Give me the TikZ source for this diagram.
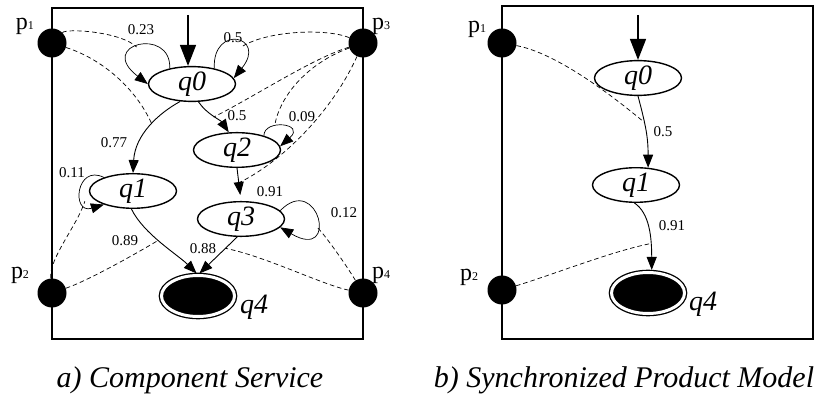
\documentclass[tikz,border=0pt]{standalone}
\usepackage{fontspec}
\setmainfont{Liberation Serif}
\usetikzlibrary{arrows.meta,shapes.geometric}

\newcommand{\pidx}[1]{{\fontsize{12}{12}\selectfont #1}}

\tikzset{
  state/.style={ellipse,draw,line width=1.4pt,minimum width=87pt,minimum height=31pt,
    inner sep=0pt,font=\fontsize{28}{28}\selectfont\itshape},
  final/.style={ellipse,draw,fill=black,double=white,double distance=3pt,line width=1.3pt,
    minimum width=73pt,minimum height=41pt,inner sep=0pt},
  slab/.style={inner sep=0pt,font=\fontsize{28}{28}\selectfont\itshape},
  plab/.style={inner sep=0pt,anchor=base,font=\fontsize{24}{24}\selectfont},
  prob/.style={inner sep=0pt,font=\fontsize{15}{15}\selectfont},
  dot/.style={circle,fill=black,minimum size=29pt,inner sep=0pt},
  edge/.style={-{Triangle[length=13pt,width=10pt]},line width=0.9pt},
  loopedge/.style={-{Triangle[length=13pt,width=10pt]},line width=0.7pt},
  init/.style={-{Triangle[length=21pt,width=16pt]},line width=1.4pt},
  dep/.style={dash pattern=on 4.5pt off 3pt,line width=0.7pt},
}

\begin{document}
\begin{tikzpicture}[x=1pt,y=-1pt]
 \useasboundingbox (0,0) rectangle (830,398);

 % a) component service
 \draw[line width=1.4pt] (52,8) rectangle (363,339);
 \node[dot] (p1) at (52,43) {};
 \node[dot] (p3) at (363,43) {};
 \node[dot] (p2) at (52,293) {};
 \node[dot] (p4) at (363,293) {};
 \node[plab] (p1l) at (25,30) {p\pidx{1}};
 \node[plab] (p3l) at (381,30) {p\pidx{3}};
 \node[plab] (p2l) at (20,278) {p\pidx{2}};
 \node[plab] (p4l) at (381,278) {p\pidx{4}};

 \node[state] (q0) at (192,84) {q0};
 \node[state,minimum height=33pt] (q2) at (237,150) {q2};
 \node[state] (q1) at (133,191) {q1};
 \node[state,minimum height=34pt] (q3) at (241,219) {q3};
 \node[final] (q4) at (198,296) {};
 \node[slab] (q4l) at (254,307) {q4};

 \coordinate (s0) at (188,15);
 \draw[init] (s0) -- (s0 |- q0.north);

 \draw[loopedge] (q0.145) .. controls +(2,-42) and +(-52,-40) .. coordinate[pos=0.55] (c0l) (q0.180);
 \draw[loopedge] (q0.35) .. controls +(-2,-45) and +(34,-42) .. coordinate[pos=0.65] (c0r) (q0.8);
 \draw[loopedge] (q2.28) .. controls +(0,-17) and +(26,-23) .. coordinate[pos=0.35] (c2) (q2.5);
 \draw[loopedge] (q1.155) .. controls +(-28,-14) and +(-33,10) .. coordinate[pos=0.72] (c1) (q1.205);
 \draw[loopedge] (q3.12) .. controls +(38,-39) and +(60,35) .. coordinate[pos=0.62] (c3) (q3.-12);

 \draw[edge] (q0.236) .. controls +(-22,12) and +(2,-38) .. coordinate[pos=0.45] (e01) (q1.north);
 \draw[edge] (q0.290) .. controls +(8,12) and +(-8,-12) .. coordinate[pos=0.5] (e02) (q2.115);
 \draw[edge,shorten >=6pt] (q2.south) -- coordinate[pos=0.45] (e23) (q3.north);
 \draw[edge,shorten >=2pt] (q1.265) .. controls +(12,25) and +(-20,-20) .. coordinate[pos=0.45] (e14) (q4.north);
 \draw[edge,shorten >=2pt] (q3.258) -- coordinate[pos=0.3] (e34) (q4.north);

 \node[prob] (w1) at (141,30) {0.23};
 \node[prob] (w2) at (233,38) {0.5};
 \node[prob] (w3) at (114,143) {0.77};
 \node[prob] (w4) at (237,116) {0.5};
 \node[prob] (w5) at (302,117) {0.09};
 \node[prob] (w6) at (72,173) {0.11};
 \node[prob] (w7) at (270,192) {0.91};
 \node[prob] (w8) at (344,213) {0.12};
 \node[prob] (w9) at (125,241) {0.89};
 \node[prob] (w10) at (203,249) {0.88};

 \draw[dep] (p1) .. controls +(15,-15) and +(-15,-15) .. (c0l);
 \draw[dep] (p1) .. controls +(50,16) and +(-16,-36) .. (e01);
 \draw[dep] (p3) .. controls +(-38,-15) and +(25,-15) .. (c0r);
 \draw[dep] (p3) .. controls +(-50,15) and +(40,-20) .. (e02);
 \draw[dep] (p3) .. controls +(-55,20) and +(5,-30) .. (c2);
 \draw[dep] (p3) .. controls +(-31,69) and +(43,-21) .. (e23);
 \draw[dep] (p2) .. controls +(-3,-35) and +(-8,25) .. (c1);
 \draw[dep] (p2) .. controls +(35,-12) and +(-25,15) .. (e14);
 \draw[dep] (p4) .. controls +(-15,-25) and +(10,10) .. (c3);
 \draw[dep] (p4) .. controls +(-40,-8) and +(40,8) .. (e34);

 % b) synchronized product model
 \draw[line width=1.4pt] (502,6) rectangle (813,339);
 \node[dot] (u1) at (502,43) {};
 \node[dot] (u2) at (502,290) {};
 \node[plab] (u1l) at (477,33) {p\pidx{1}};
 \node[plab] (u2l) at (469,280) {p\pidx{2}};

 \node[state,minimum height=30pt] (r0) at (638,78) {q0};
 \node[state,minimum height=27pt] (r1) at (636,185) {q1};
 \node[final] (r4) at (648,293) {};
 \node[slab] (r4l) at (703,304) {q4};

 \coordinate (t0) at (638,15);
 \draw[init] (t0) -- (t0 |- r0.north);

 \draw[edge] (r0.south) .. controls +(8,30) and +(0,-30) .. coordinate[pos=0.35] (f01) (r1.55);
 \draw[edge,shorten >=2pt] (r1.265) .. controls +(15,10) and +(0,-35) .. coordinate[pos=0.7] (f14) (r4.80);
 \node[prob] (v1) at (663,132) {0.5};
 \node[prob] (v2) at (672,226) {0.91};

 \draw[dep] (u1) .. controls +(55,10) and +(-30,-25) .. (f01);
 \draw[dep] (u2) .. controls +(50,-15) and +(-40,8) .. (f14);

 \node[font=\fontsize{30}{30}\selectfont\itshape] (capa) at (190,380) {a) Component Service};
 \node[font=\fontsize{30}{30}\selectfont\itshape] (capb) at (624,380) {b) Synchronized Product Model};
\end{tikzpicture}
\end{document}
